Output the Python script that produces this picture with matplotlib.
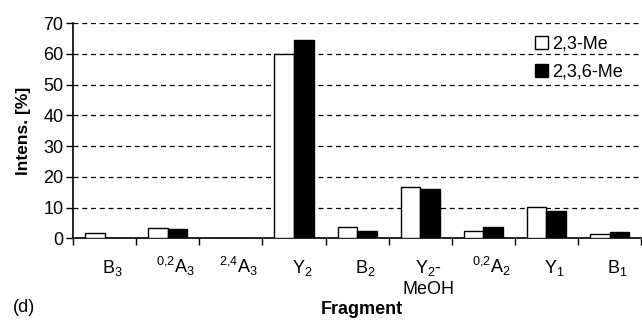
import matplotlib
matplotlib.use("Agg")
import matplotlib.pyplot as plt
import matplotlib.transforms as mtransforms
import numpy as np
from matplotlib.patches import Patch

plt.rcParams['font.family'] = ['Liberation Sans', 'DejaVu Sans']
plt.rcParams['mathtext.fontset'] = 'custom'
plt.rcParams['mathtext.rm'] = 'Liberation Sans'
plt.rcParams['mathtext.it'] = 'Liberation Sans'

categories = [r'B$_3$', r'$^{0{,}2}$A$_3$', r'$^{2{,}4}$A$_3$', r'Y$_2$', r'B$_2$',
              'Y$_2$-\nMeOH', r'$^{0{,}2}$A$_2$', r'Y$_1$', r'B$_1$']
me23 = [1.9, 3.4, 0, 60.0, 3.8, 16.9, 2.4, 10.2, 1.4]
me236 = [0, 3.0, 0, 64.5, 2.5, 16.0, 3.8, 8.9, 2.0]
series_names = ['2,3-Me', '2,3,6-Me']

fig = plt.figure(figsize=(6.42, 3.2), dpi=100)
ax = fig.add_axes([0.1137, 0.2547, 0.885, 0.673])

x = np.arange(len(categories))
w = 0.31
ax.bar(x - w/2, me23, w, color='white', edgecolor='black', linewidth=1.0, zorder=3)
ax.bar(x + w/2, me236, w, color='black', edgecolor='black', linewidth=1.0, zorder=3)

ax.set_xlim(-0.5, len(categories) - 0.5)
ax.set_ylim(0, 70)
ax.set_yticks(range(0, 71, 10))
ax.yaxis.grid(True, linestyle=(0, (4, 3)), color='black', linewidth=0.9, zorder=0)
ax.set_axisbelow(True)

first_lines = [c.split('\n')[0] for c in categories]
ax.set_xticks(x)
ax.set_xticklabels(first_lines, fontsize=13, va='baseline')
ax.set_xticks(np.arange(-0.5, len(categories), 1), minor=True)
ax.tick_params(axis='x', which='major', length=0, pad=24.5)
ax.tick_params(axis='x', which='minor', length=5, width=1, direction='out')
ax.tick_params(axis='y', labelsize=13, length=5, width=1, direction='out', pad=2)
shift = mtransforms.ScaledTranslation(0.08, 0, fig.dpi_scale_trans)
for lab in ax.get_xticklabels():
    lab.set_transform(lab.get_transform() + shift)
# second lines of multi-line category labels
for xi, c in zip(x, categories):
    parts = c.split('\n')
    if len(parts) > 1:
        ax.annotate(parts[1], xy=(xi, 0), xycoords=('data', 'axes fraction'),
                    xytext=(5.8, -40), textcoords='offset points',
                    ha='center', va='baseline', fontsize=13)

for s in ['top', 'right']:
    ax.spines[s].set_visible(False)
for s in ['left', 'bottom']:
    ax.spines[s].set_linewidth(1.2)

ax.set_ylabel('Intens. [%]', fontsize=12.5, fontweight='bold', labelpad=9)
fig.text(0.564, 0.032, 'Fragment', fontsize=13, fontweight='bold', ha='center', va='center')
fig.text(0.02, 0.04, '(d)', fontsize=13, ha='left', va='center')

handles = [Patch(facecolor='white', edgecolor='black'), Patch(facecolor='black', edgecolor='black')]
leg = ax.legend(handles, series_names, loc='upper right', bbox_to_anchor=(0.99, 1.0),
                frameon=False, fontsize=13, handlelength=0.7, handleheight=0.7,
                handletextpad=0.25, labelspacing=0.6, borderaxespad=0.3)

fig.savefig('out.png', dpi=100)
